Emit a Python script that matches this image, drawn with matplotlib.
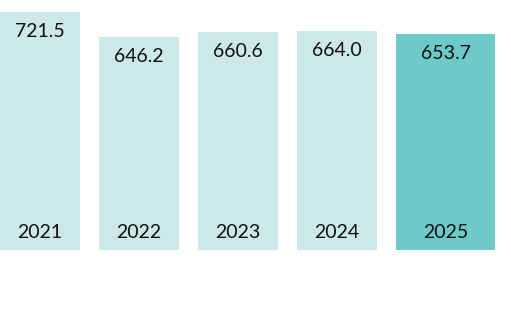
import matplotlib
matplotlib.use("Agg")
import matplotlib.pyplot as plt

years = ["2021", "2022", "2023", "2024", "2025"]
values = [721.5, 646.2, 660.6, 664.0, 653.7]
widths = [0.81, 0.81, 0.81, 0.81, 1.0]
colors = ["#cce8e9", "#cce8e9", "#cce8e9", "#cce8e9", "#6dcac8"]

plt.rcParams['font.family'] = ['Lato', 'DejaVu Sans']

fig = plt.figure(figsize=(5.11, 3.25), dpi=100)
ax = fig.add_axes([0, 75.5 / 325, 1, 249.5 / 325])

pos = list(range(len(years)))
ax.bar(pos, values, width=widths, align="edge", color=colors, linewidth=0)

for i in pos:
    cx = i + widths[i] / 2
    # value near the top of each bar
    ax.annotate(f"{values[i]:.1f}", (cx, values[i]), xytext=(0, -19.5),
                textcoords="offset pixels", ha="center", va="center",
                fontsize=14, color="#111111")
    # year near the bottom
    ax.annotate(years[i], (cx, 0), xytext=(0, 17.5),
                textcoords="offset pixels", ha="center", va="center",
                fontsize=14, color="#111111")

ax.set_xlim(0, 511 / 99)
ax.set_ylim(0, 758)
ax.axis("off")

fig.savefig("out.png", dpi=100)
